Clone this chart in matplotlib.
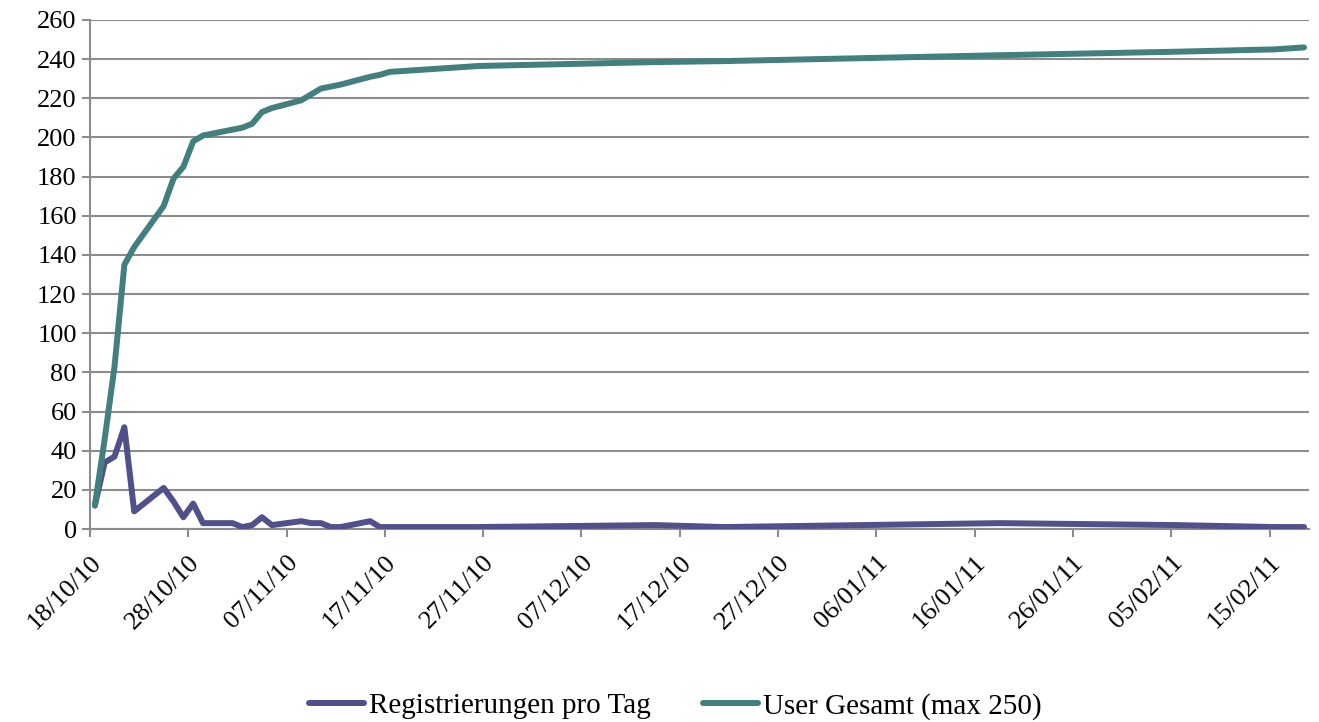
import matplotlib.pyplot as plt

# days since 18/10/10 for every data point (gaps = no data that day)
days = [0, 1, 2, 3, 4, 7, 8, 9, 10, 11, 14, 15, 16, 17, 18, 21, 22, 23, 24, 25,
        28, 29, 30, 39, 57, 64, 92, 110, 120, 123]

# registrations per day
reg_per_day = [12, 34, 37, 52, 9, 21, 14, 6, 13, 3, 3, 1, 2, 6, 2, 4, 3, 3, 1, 1,
               4, 1, 1, 1, 2, 1, 3, 2, 1, 1]

# total users
users_total = [12, 46, 83, 135, 144, 165, 179, 185, 198, 201, 204, 205, 207, 213, 215,
                219, 222, 225, 226, 227, 231, 232, 233.5, 236.5, 238.5, 239, 242, 243.8, 245, 246]

tick_days = list(range(0, 121, 10))
tick_labels = ['18/10/10', '28/10/10', '07/11/10', '17/11/10', '27/11/10', '07/12/10',
               '17/12/10', '27/12/10', '06/01/11', '16/01/11', '26/01/11', '05/02/11', '15/02/11']

plt.rcParams['font.family'] = ['Liberation Serif', 'DejaVu Serif']

fig = plt.figure(figsize=(13.19, 7.22), dpi=100)
ax = fig.add_axes([0.0682, 0.2673, 0.9242, 0.705])

# Excel puts each date in the middle of its day slot
x = [d + 0.5 for d in days]
ax.plot(x, reg_per_day, color='#50508A', linewidth=4.3, solid_joinstyle='round',
        solid_capstyle='round', label='Registrierungen pro Tag', zorder=3)
ax.plot(x, users_total, color='#41807F', linewidth=4.3, solid_joinstyle='round',
        solid_capstyle='round', label='User Gesamt (max 250)', zorder=3)

ax.set_xlim(0, 124)
ax.set_ylim(0, 260)
ax.set_yticks(range(0, 261, 20))
ax.set_xticks(tick_days)
ax.set_xticklabels(tick_labels, rotation=45, ha='right', rotation_mode='anchor')

ax.grid(axis='y', color='#8C8C8C', linewidth=1.5)
ax.set_axisbelow(True)
for s in ['top', 'right']:
    ax.spines[s].set_visible(False)
for s in ['left', 'bottom']:
    ax.spines[s].set_color('#8C8C8C')
    ax.spines[s].set_linewidth(1.5)
ax.tick_params(axis='both', colors='#8C8C8C', width=1.5, length=6, labelcolor='black', labelsize=19)
ax.tick_params(axis='x', pad=10)

ax.legend(loc='upper center', bbox_to_anchor=(0.48, -0.27), ncol=2, frameon=False,
          fontsize=21, handlelength=1.9, handletextpad=0.15, columnspacing=1.8)

plt.savefig('out.png', dpi=100)
